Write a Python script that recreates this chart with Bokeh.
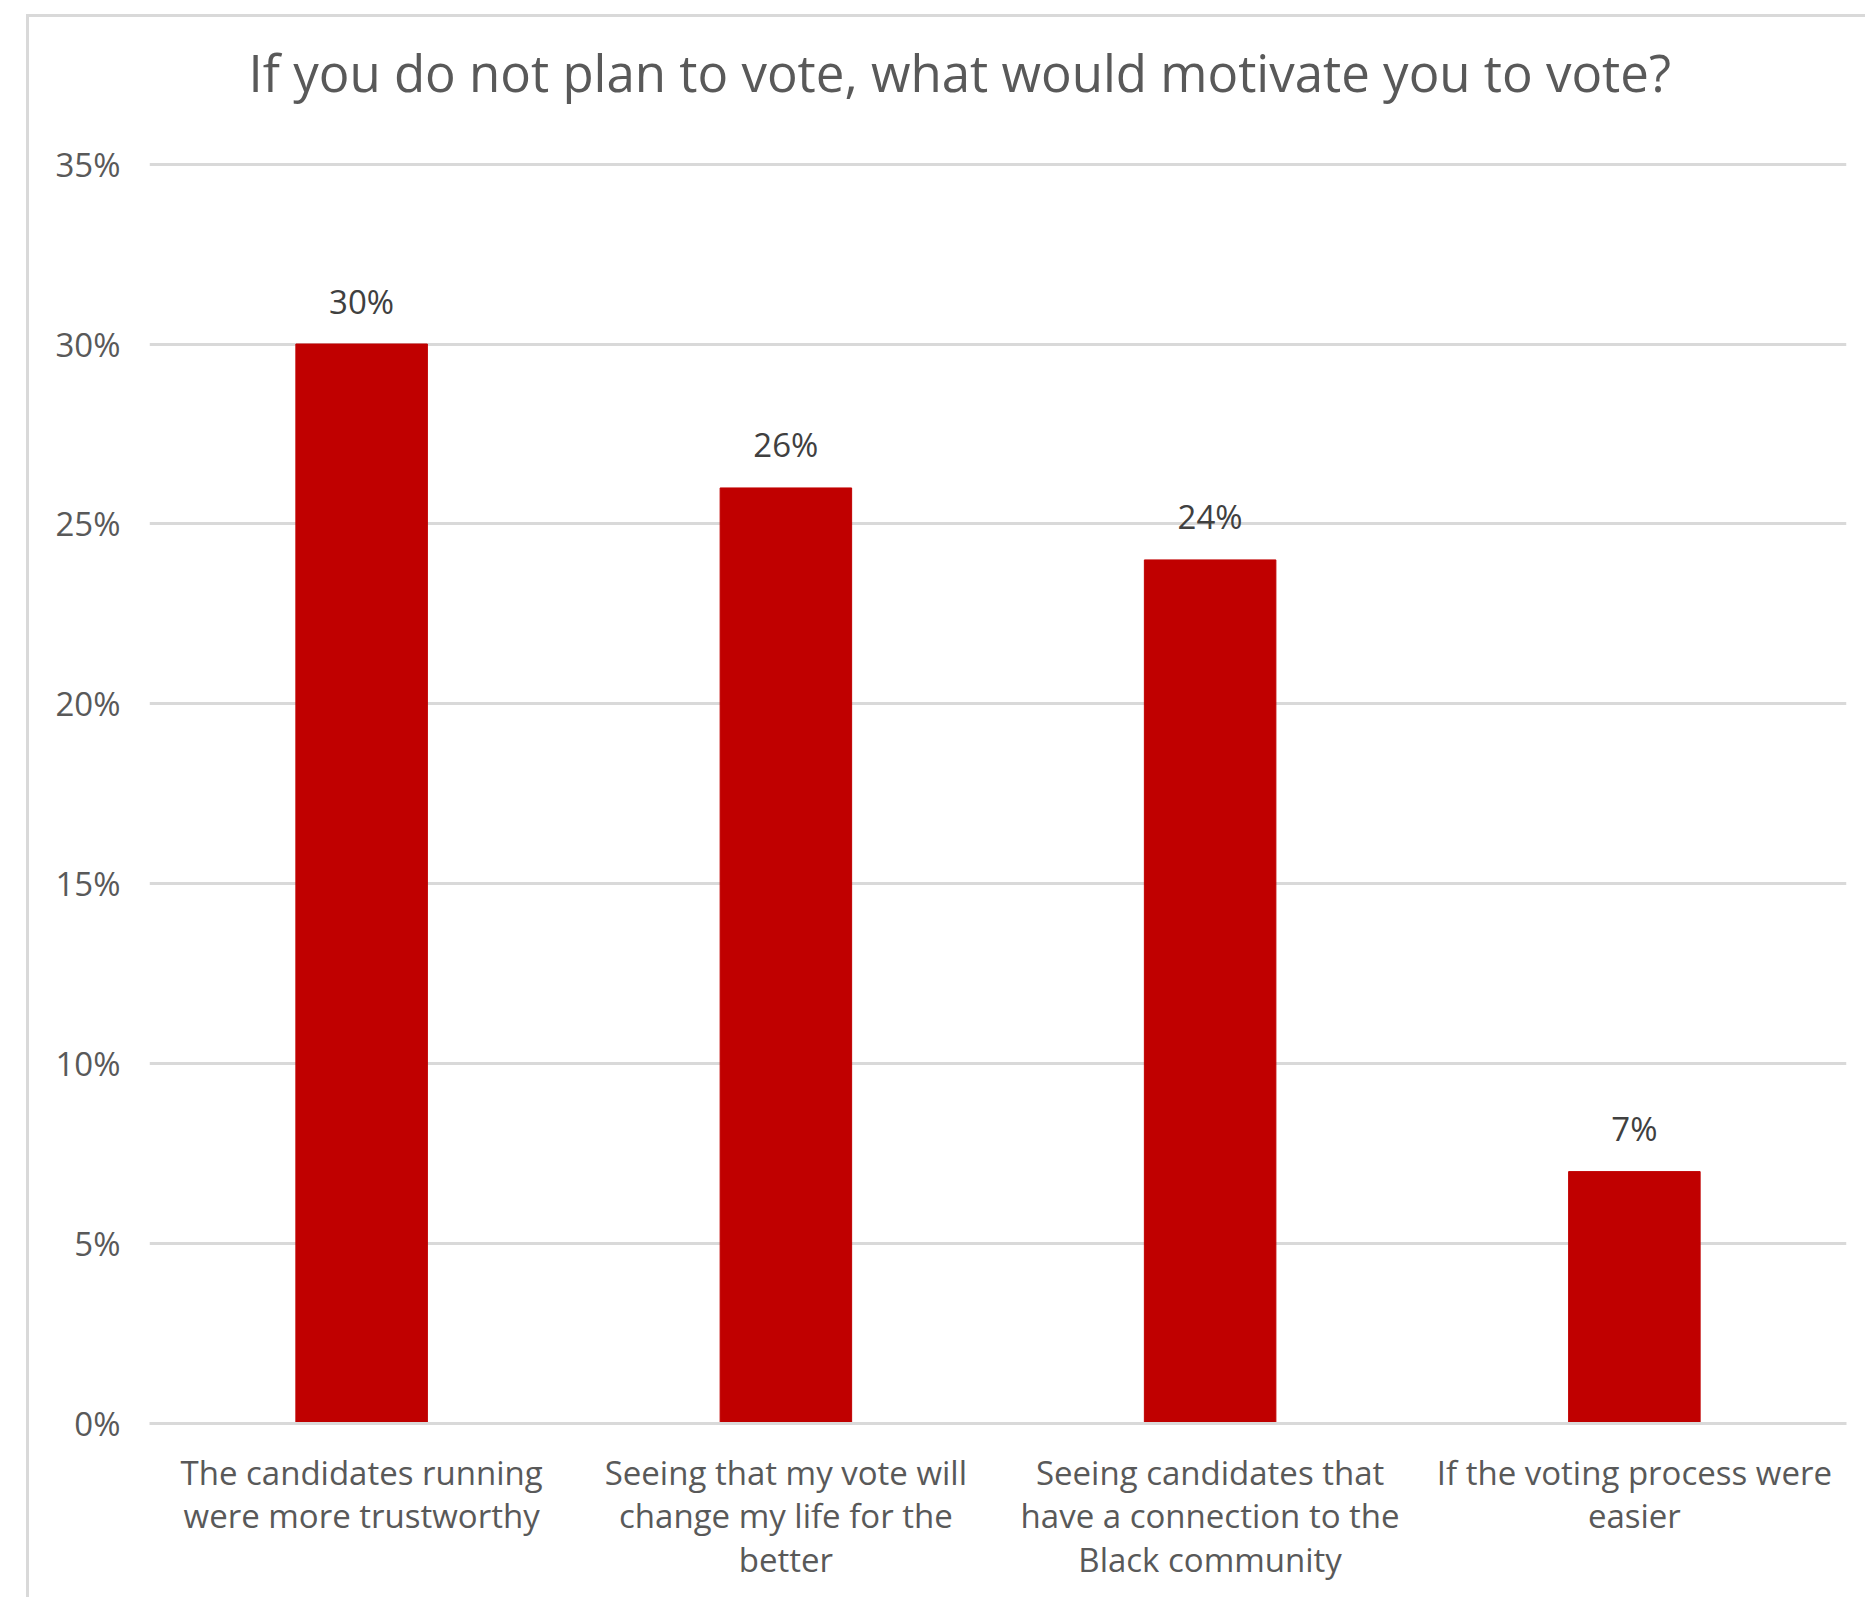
from bokeh.plotting import figure
from bokeh.layouts import column
from bokeh.models import (ColumnDataSource, FactorRange, Range1d, FixedTicker,
                          NumeralTickFormatter, LabelSet)
from bokeh.embed import file_html
from bokeh.resources import INLINE
from bokeh.core.properties import value

title_text = "If you do not plan to vote, what would motivate you to vote?"
categories = [
    "The candidates running\nwere more trustworthy",
    "Seeing that my vote will\nchange my life for the\nbetter",
    "Seeing candidates that\nhave a connection to the\nBlack community",
    "If the voting process were\neasier",
]
shares = [0.30, 0.26, 0.24, 0.07]
value_labels = ["30%", "26%", "24%", "7%"]
y_ticks = [0.0, 0.05, 0.10, 0.15, 0.20, 0.25, 0.30, 0.35]

FONT = "Open Sans"
W, H = 1836, 1617

src = ColumnDataSource(dict(cat=categories, share=shares, label=value_labels))

p = figure(width=W, height=H, x_range=FactorRange(*categories),
           y_range=Range1d(0, 0.351), output_backend="svg", toolbar_location=None,
           min_border_left=120, min_border_right=19, min_border_top=180,
           min_border_bottom=174, margin=(-37, 0, 0, 0))
p.outline_line_color = None
p.background_fill_color = "white"
p.border_fill_color = None

p.vbar(x="cat", top="share", width=0.31, source=src, color="#C00000")

p.add_layout(LabelSet(x="cat", y="share", text="label", source=src,
                      y_offset=43, text_align="center", text_baseline="middle",
                      text_font=value(FONT), text_font_size="33px",
                      text_color="#404040"))

# title
p.title.text = title_text
p.title.text_font = FONT
p.title.text_font_size = "51px"
p.title.text_font_style = "normal"
p.title.text_color = "#595959"
p.title.align = "left"
p.title.offset = 99
p.title.standoff = 107

# grid
p.xgrid.grid_line_color = None
p.ygrid.grid_line_color = "#d9d9d9"
p.ygrid.grid_line_width = 3
p.yaxis.ticker = FixedTicker(ticks=y_ticks)

# y axis
p.yaxis.formatter = NumeralTickFormatter(format="0%")
p.yaxis.axis_line_color = None
p.yaxis.major_tick_line_color = None
p.yaxis.minor_tick_line_color = None
p.yaxis.major_tick_out = 0
p.yaxis.major_tick_in = 0
p.yaxis.minor_tick_out = 0
p.yaxis.major_label_standoff = 29
p.yaxis.major_label_text_font = FONT
p.yaxis.major_label_text_font_size = "33px"
p.yaxis.major_label_text_color = "#595959"

# x axis
p.xaxis.axis_line_color = "#d9d9d9"
p.xaxis.axis_line_width = 3
p.xaxis.major_tick_line_color = None
p.xaxis.minor_tick_line_color = None
p.xaxis.major_tick_out = 0
p.xaxis.major_tick_in = 0
p.xaxis.major_label_standoff = 26
p.xaxis.major_label_text_font = FONT
p.xaxis.major_label_text_font_size = "33px"
p.xaxis.major_label_text_color = "#595959"
p.xaxis.major_label_text_line_height = 0.97

# chart-area border (light grey frame around the chart, cut off right/bottom)
layout = column(p, margin=(14, 0, 0, 26),
                styles={"border-left": "3px solid #d9d9d9",
                        "border-top": "3px solid #d9d9d9",
                        "background-color": "white"})

open("out.html", "w").write(file_html(layout, INLINE))
